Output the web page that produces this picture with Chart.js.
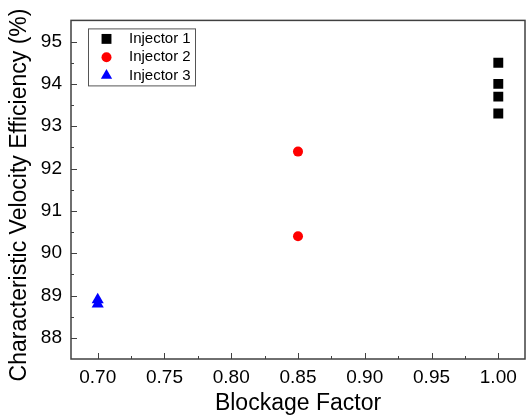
<!DOCTYPE html>
<html>
<head>
<meta charset="utf-8">
<script src="https://cdn.jsdelivr.net/npm/chart.js@4.4.1/dist/chart.umd.min.js"></script>
<style>
    html, body { margin: 0; padding: 0; background: #fff; }
    canvas { display: block; }
</style>
</head>
<body>
<canvas id="chart" width="532" height="419"></canvas>
<script>
const seriesNames = ["Injector 1", "Injector 2", "Injector 3"];
const blockage1 = [1.00, 1.00, 1.00, 1.00];
const efficiency1 = [94.5, 94.0, 93.7, 93.3];
const blockage2 = [0.85, 0.85];
const efficiency2 = [92.4, 90.4];
const blockage3 = [0.70, 0.70];
const efficiency3 = [88.9, 88.8];
const xTicks = [0.70, 0.75, 0.80, 0.85, 0.90, 0.95, 1.00];
const yTicks = [88, 89, 90, 91, 92, 93, 94, 95];

const FONT = "'Liberation Sans', Arial, sans-serif";
const AXIS_COLOR = "#404040";

function points(xs, ys) {
    return xs.map((x, i) => ({ x: x, y: ys[i] }));
}

/* Frame and inward tick marks */
const frameTicks = {
    id: "frameTicks",
    afterDraw(chart) {
        const { ctx, chartArea: a, scales: { x, y } } = chart;
        ctx.save();
        ctx.strokeStyle = AXIS_COLOR;
        ctx.lineWidth = 1;
        ctx.beginPath();
        const xs = x.ticks.map(t => t.value);
        const xStep = xs[1] - xs[0];
        xs.forEach(v => {
            const px = Math.round(x.getPixelForValue(v)) + 0.5;
            ctx.moveTo(px, a.bottom); ctx.lineTo(px, a.bottom - 6);
            const mx = Math.round(x.getPixelForValue(v + xStep / 2)) + 0.5;
            if (v + xStep / 2 < x.max) { ctx.moveTo(mx, a.bottom); ctx.lineTo(mx, a.bottom - 3); }
        });
        const ys = y.ticks.map(t => t.value);
        const yStep = ys[1] - ys[0];
        ys.forEach(v => {
            const py = Math.round(y.getPixelForValue(v)) + 0.5;
            ctx.moveTo(a.left, py); ctx.lineTo(a.left + 6, py);
            const my = Math.round(y.getPixelForValue(v + yStep / 2)) + 0.5;
            if (v + yStep / 2 < y.max) { ctx.moveTo(a.left, my); ctx.lineTo(a.left + 3, my); }
        });
        ctx.stroke();
        ctx.lineWidth = 1.5;
        ctx.strokeRect(a.left, a.top, a.right - a.left, a.bottom - a.top);
        ctx.restore();
    }
};

/* Y axis title, drawn a little below the axis centre */
const yTitle = {
    id: "yTitle",
    afterDraw(chart) {
        const ctx = chart.ctx;
        ctx.save();
        ctx.translate(20, 195);
        ctx.rotate(-Math.PI / 2);
        ctx.font = "23px " + FONT;
        ctx.fillStyle = "#000";
        ctx.textAlign = "center";
        ctx.textBaseline = "middle";
        ctx.fillText("Characteristic Velocity Efficiency (%)", 0, 0);
        ctx.restore();
    }
};

function drawMarker(ctx, style, cx, cy, r, color) {
    ctx.fillStyle = color;
    ctx.beginPath();
    if (style === "rect") {
        const s = r * Math.SQRT1_2;
        ctx.rect(cx - s, cy - s, 2 * s, 2 * s);
    } else if (style === "circle") {
        ctx.arc(cx, cy, r, 0, Math.PI * 2);
    } else {
        ctx.moveTo(cx, cy - r);
        ctx.lineTo(cx + r * Math.sin(Math.PI * 2 / 3), cy + r / 2);
        ctx.lineTo(cx - r * Math.sin(Math.PI * 2 / 3), cy + r / 2);
        ctx.closePath();
    }
    ctx.fill();
}

/* Boxed legend inside the plot area */
const boxLegend = {
    id: "boxLegend",
    afterDraw(chart) {
        const { ctx, chartArea: a } = chart;
        const left = a.left + 17, top = a.top + 8;
        const w = 107, h = 57, row = 18.3;
        ctx.save();
        ctx.fillStyle = "#fff";
        ctx.fillRect(left, top, w, h);
        ctx.strokeStyle = "#555";
        ctx.lineWidth = 1;
        ctx.strokeRect(left + 0.5, top + 0.5, w, h);
        ctx.font = "15px " + FONT;
        ctx.textBaseline = "middle";
        chart.data.datasets.forEach((ds, i) => {
            const cy = top + 10.5 + i * row;
            const r = ds.pointStyle === "circle" ? 5 : (ds.pointStyle === "rect" ? 7 : 6.5);
            drawMarker(ctx, ds.pointStyle, left + 18.5, cy, r, ds.backgroundColor);
            ctx.fillStyle = "#000";
            ctx.fillText(ds.label, left + 41, cy);
        });
        ctx.restore();
    }
};

new Chart(document.getElementById("chart"), {
    type: "scatter",
    data: {
        datasets: [{
            label: seriesNames[0],
            data: points(blockage1, efficiency1),
            pointStyle: "rect",
            pointRadius: 7,
            backgroundColor: "#000000",
            borderWidth: 0
        }, {
            label: seriesNames[1],
            data: points(blockage2, efficiency2),
            pointStyle: "circle",
            pointRadius: 5,
            backgroundColor: "#ff0000",
            borderWidth: 0
        }, {
            label: seriesNames[2],
            data: points(blockage3, efficiency3),
            pointStyle: "triangle",
            pointRadius: 7,
            backgroundColor: "#0000ff",
            borderWidth: 0
        }]
    },
    options: {
        responsive: false,
        animation: false,
        layout: { padding: { left: 0, top: 17, right: 3, bottom: 0 } },
        plugins: {
            legend: { display: false },
            tooltip: { enabled: false }
        },
        scales: {
            x: {
                type: "linear",
                min: 0.68,
                max: 1.02,
                afterBuildTicks: s => { s.ticks = xTicks.map(v => ({ value: v })); },
                afterFit: s => { s.height = 60; },
                grid: { display: false, drawTicks: false },
                border: { display: false },
                ticks: {
                    padding: 7,
                    color: "#000",
                    font: { family: FONT, size: 19 },
                    callback: v => v.toFixed(2)
                },
                title: {
                    display: true,
                    text: "Blockage Factor",
                    color: "#000",
                    font: { family: FONT, size: 23 },
                    padding: { top: 0, bottom: 2 }
                }
            },
            y: {
                min: 87.5,
                max: 95.5,
                afterBuildTicks: s => { s.ticks = yTicks.map(v => ({ value: v })); },
                afterFit: s => { s.width = 71; },
                grid: { display: false, drawTicks: false },
                border: { display: false },
                ticks: {
                    padding: 9,
                    color: "#000",
                    font: { family: FONT, size: 19 },
                    callback: v => String(v)
                }
            }
        }
    },
    plugins: [frameTicks, yTitle, boxLegend]
});
</script>
</body>
</html>
